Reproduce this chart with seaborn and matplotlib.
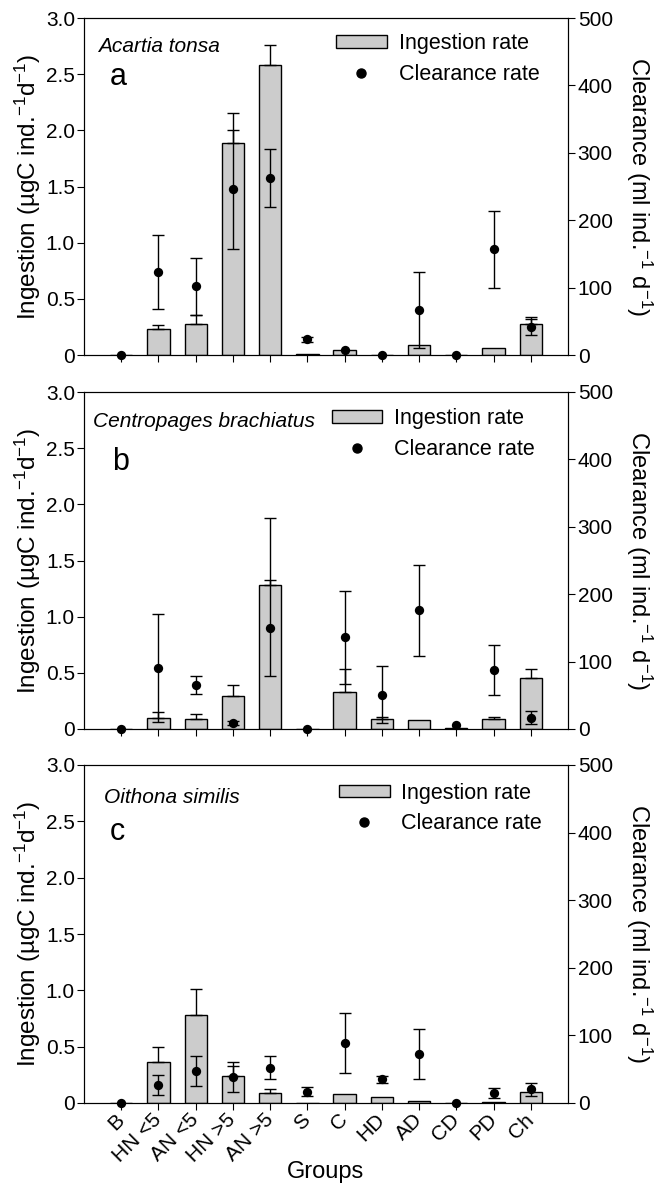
import numpy as np
import pandas as pd
import matplotlib
matplotlib.use("Agg")
import matplotlib.pyplot as plt
import seaborn as sns
from matplotlib.patches import Patch
from matplotlib.lines import Line2D

# Prey groups on the x axis
groups = ["B", "HN <5", "AN <5", "HN >5", "AN >5", "S", "C", "HD", "AD", "CD", "PD", "Ch"]

# Acartia tonsa
acartia_ingestion = [0, 0.23, 0.28, 1.89, 2.58, 0.005, 0.045, 0, 0.085, 0, 0.065, 0.28]
acartia_ingestion_err = [0, 0.04, 0.08, 0.26, 0.18, 0, 0, 0, 0, 0, 0, 0.06]
acartia_clearance = [0, 123, 102, 246, 263, 23, 7, 0, 67, 0, 157, 41]
acartia_clearance_err = [0, 55, 42, 88, 43, 4, 0, 0, 56, 0, 57, 12]

# Centropages brachiatus
centropages_ingestion = [0, 0.10, 0.09, 0.29, 1.28, 0, 0.33, 0.09, 0.08, 0.01, 0.09, 0.45]
centropages_ingestion_err = [0, 0.05, 0.04, 0.10, 0.60, 0, 0.20, 0.02, 0, 0, 0.02, 0.08]
centropages_clearance = [0, 91, 65, 9, 150, 0, 136, 51, 176, 6, 88, 17]
centropages_clearance_err = [0, 80, 13, 3, 71, 0, 69, 42, 68, 0, 37, 9]

# Oithona similis
oithona_ingestion = [0, 0.36, 0.78, 0.24, 0.09, 0, 0.08, 0.055, 0.02, 0, 0.01, 0.10]
oithona_ingestion_err = [0, 0.14, 0.23, 0.09, 0.03, 0, 0, 0, 0, 0, 0, 0]
oithona_clearance = [0, 27, 47, 39, 52, 17, 89, 35, 72, 0, 15, 20]
oithona_clearance_err = [0, 15, 22, 22, 17, 7, 44, 5, 37, 0, 7, 10]

species = ["Acartia tonsa", "Centropages brachiatus", "Oithona similis"]
panel_letters = ["a", "b", "c"]

left_ticks = [0, 0.5, 1.0, 1.5, 2.0, 2.5, 3.0]
left_ticklabels = ["0", "0.5", "1.0", "1.5", "2.0", "2.5", "3.0"]
right_ticks = [0, 100, 200, 300, 400, 500]
right_ticklabels = ["0", "100", "200", "300", "400", "500"]

BAR = "#cccccc"

sns.set_theme(style="ticks", rc={
    "axes.edgecolor": "black", "text.color": "black", "axes.labelcolor": "black",
    "xtick.color": "black", "ytick.color": "black", "axes.linewidth": 0.8,
})
plt.rcParams["font.family"] = ["Liberation Sans", "DejaVu Sans"]
plt.rcParams["mathtext.fontset"] = "custom"
plt.rcParams["mathtext.rm"] = "Liberation Sans"
plt.rcParams["mathtext.it"] = "Liberation Sans:italic"

W, H = 656, 1184
fig = plt.figure(figsize=(W / 100, H / 100), dpi=100)

# axes boxes in pixels: (top, bottom)
boxes = [(18, 355), (392, 729), (765, 1103)]
AX_L, AX_R = 84, 568
legend_anchor = [(0.521, 0.955), (0.512, 0.952), (0.527, 0.948)]
species_pos = [(0.029, 0.900), (0.018, 0.896), (0.041, 0.888)]
letter_pos = [(0.054, 0.800), (0.059, 0.768), (0.054, 0.777)]

data = [
    (acartia_ingestion, acartia_ingestion_err, acartia_clearance, acartia_clearance_err),
    (centropages_ingestion, centropages_ingestion_err, centropages_clearance, centropages_clearance_err),
    (oithona_ingestion, oithona_ingestion_err, oithona_clearance, oithona_clearance_err),
]

x = np.arange(len(groups))
for i, ((top, bot), (ing, ing_err, clr, clr_err)) in enumerate(zip(boxes, data)):
    ax = fig.add_axes([AX_L / W, 1 - bot / H, (AX_R - AX_L) / W, (bot - top) / H])
    df = pd.DataFrame({"group": groups, "ingestion": ing})
    sns.barplot(data=df, x="group", y="ingestion", order=groups, color=BAR,
                saturation=1, edgecolor="black", linewidth=1.0, width=0.6,
                errorbar=None, ax=ax, zorder=2)
    ing = np.array(ing, float)
    ie = np.array(ing_err, float)
    m = ie > 0
    ax.errorbar(x[m], ing[m], yerr=[np.zeros(m.sum()), ie[m]], fmt="none",
                ecolor="black", elinewidth=1.0, capsize=4.5, capthick=1.0, zorder=3)
    ax.set_xlim(-1, 12)
    ax.set_ylim(0, 3)
    ax.set_yticks(left_ticks)
    ax.set_yticklabels(left_ticklabels)
    ax.set_xticks(x)
    ax.tick_params(axis="both", direction="out", length=5, width=0.8, labelsize=15, pad=1.5)
    ax.set_ylabel("Ingestion (µgC ind.$^{-1}$d$^{-1}$)", fontsize=17.5, labelpad=2)
    if i < 2:
        ax.set_xticklabels([])
        ax.set_xlabel("")
    else:
        ax.set_xticklabels(groups, rotation=45, ha="right", va="center",
                           rotation_mode="anchor")
        ax.tick_params(axis="x", pad=5)
        ax.set_xlabel("Groups", fontsize=17, va="center")
        ax.xaxis.set_label_coords(0.5, -0.204)

    ax2 = ax.twinx()
    ax2.set_ylim(0, 500)
    clr = np.array(clr, float)
    ce = np.array(clr_err, float)
    mc = ce > 0
    ax2.errorbar(x[mc], clr[mc], yerr=ce[mc], fmt="none", ecolor="black",
                 elinewidth=1.0, capsize=4.5, capthick=1.0, zorder=3)
    sns.scatterplot(x=x, y=clr, ax=ax2, color="black", s=45, edgecolor="black",
                    linewidth=0, clip_on=False, zorder=5, legend=False)
    ax2.set_yticks(right_ticks)
    ax2.set_yticklabels(right_ticklabels)
    ax2.tick_params(axis="y", direction="out", length=5, width=0.8, labelsize=15, pad=2)
    ax2.set_ylabel("Clearance (ml ind.$^{-1}$ d$^{-1}$)", fontsize=17,
                   rotation=270, va="bottom", labelpad=8)
    for sp in ax2.spines.values():
        sp.set_linewidth(0.8)

    handles = [Patch(facecolor=BAR, edgecolor="black", linewidth=1.0),
               Line2D([], [], marker="o", color="black", linestyle="none", markersize=6.5)]
    ax2.legend(handles, ["Ingestion rate", "Clearance rate"], loc="upper left",
               bbox_to_anchor=legend_anchor[i], frameon=False, fontsize=15.5,
               handlelength=2.35, handleheight=0.5, handletextpad=0.55,
               labelspacing=0.45, borderpad=0, borderaxespad=0)

    ax.text(*species_pos[i], species[i], transform=ax.transAxes, fontsize=15,
            style="italic", ha="left", va="baseline")
    ax.text(*letter_pos[i], panel_letters[i], transform=ax.transAxes, fontsize=22,
            ha="left", va="baseline")

fig.savefig("out.png", dpi=100)
